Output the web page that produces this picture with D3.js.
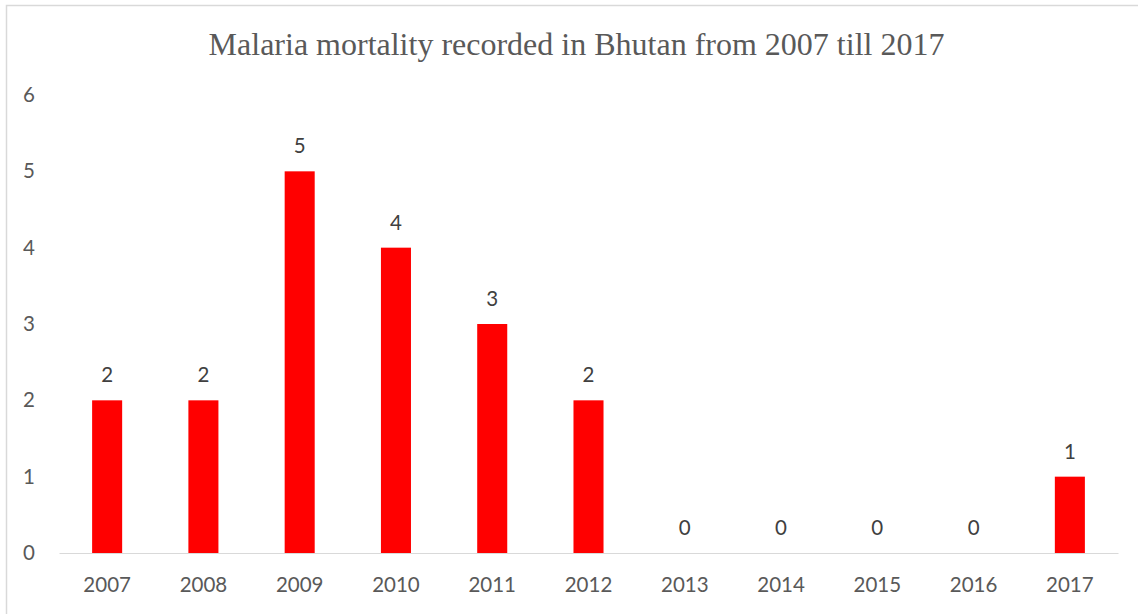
<!DOCTYPE html>
<html>
<head>
<meta charset="utf-8">
<script src="https://cdn.jsdelivr.net/npm/d3@7"></script>
<style>
  html, body { margin: 0; padding: 0; background: #fff; }
  svg { display: block; }
</style>
</head>
<body>
<svg id="chart" width="1138" height="614"></svg>
<script>
const years = ["2007","2008","2009","2010","2011","2012","2013","2014","2015","2016","2017"];
const deaths = [2, 2, 5, 4, 3, 2, 0, 0, 0, 0, 1];
const yTicks = [0, 1, 2, 3, 4, 5, 6];
const titleText = "Malaria mortality recorded in Bhutan from 2007 till 2017";

const svg = d3.select("#chart");
const plot = { left: 59, right: 1118, top: 95, bottom: 553 };
const textColor = "#595959";
const sansFont = "Lato, 'Open Sans', sans-serif";

svg.append("rect")
  .attr("x", 6.5).attr("y", 5.5)
  .attr("width", 1160).attr("height", 640)
  .attr("fill", "none").attr("stroke", "#d9d9d9").attr("stroke-width", 1.5);

const x = d3.scaleBand().domain(years).range([plot.left, plot.right]).paddingInner(0.688).paddingOuter(0.344);
const y = d3.scaleLinear().domain([0, 6]).range([plot.bottom, plot.top]);

svg.append("text")
  .attr("x", 576.5).attr("y", 55)
  .attr("text-anchor", "middle")
  .attr("font-family", "'Liberation Serif', 'Times New Roman', serif")
  .attr("font-size", 32)
  .attr("fill", textColor)
  .text(titleText);

const yAxis = d3.axisLeft(y).tickValues(yTicks).tickSize(0).tickPadding(0).tickFormat(d3.format("d"));
const gy = svg.append("g").attr("transform", "translate(35,0)").call(yAxis);
gy.select(".domain").remove();
gy.selectAll("text")
  .attr("font-family", sansFont).attr("font-size", 20.5).attr("fill", textColor);

svg.append("g").selectAll("rect")
  .data(deaths)
  .join("rect")
  .attr("x", (d, i) => x(years[i]))
  .attr("width", x.bandwidth())
  .attr("y", d => y(d))
  .attr("height", d => y(0) - y(d))
  .attr("fill", "#ff0000");

const xAxis = d3.axisBottom(x).tickSize(0).tickPadding(24);
const gx = svg.append("g").attr("transform", `translate(0,${plot.bottom})`).call(xAxis);
gx.select(".domain").attr("stroke", "#d9d9d9").attr("stroke-width", 1.2);
gx.selectAll("text")
  .attr("font-family", sansFont).attr("font-size", 20.5).attr("fill", textColor);

svg.append("g").selectAll("text")
  .data(deaths)
  .join("text")
  .attr("x", (d, i) => x(years[i]) + x.bandwidth() / 2)
  .attr("y", d => y(d) - 18)
  .attr("text-anchor", "middle")
  .attr("font-family", sansFont).attr("font-size", 20.5)
  .attr("fill", "#404040")
  .text(d => d);
</script>
</body>
</html>
